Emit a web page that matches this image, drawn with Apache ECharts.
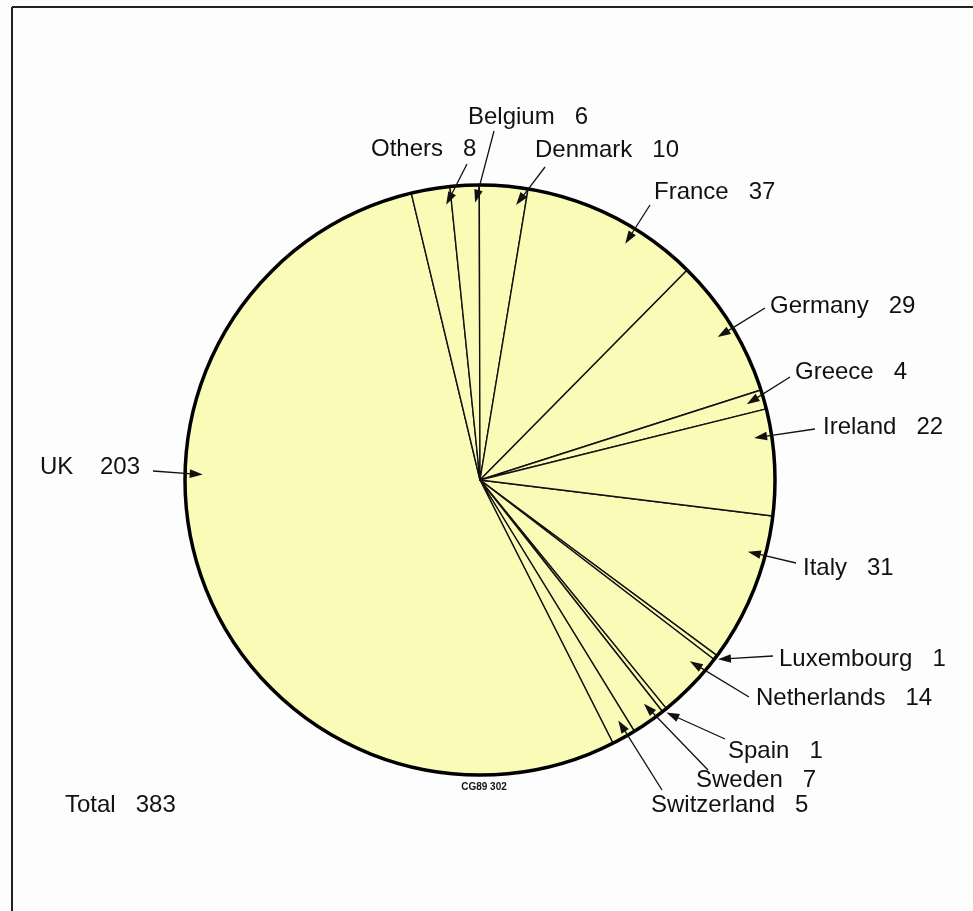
<!DOCTYPE html>
<html>
<head>
<meta charset="utf-8">
<script src="https://cdn.jsdelivr.net/npm/echarts@6/dist/echarts.min.js"></script>
<style>
html,body{margin:0;padding:0;background:#fdfdfd;}
#c{width:973px;height:911px;}
</style>
</head>
<body>
<div id="c"></div>
<script>
// ---- data ----
const categories = ['Italy','Luxembourg','Netherlands','Spain','Sweden','Switzerland','UK','Others','Belgium','Denmark','France','Germany','Greece','Ireland'];
const values = [31,1,14,1,7,5,203,8,6,10,37,29,4,22];
const totalShown = 383;
const figureCode = 'CG89 302';

// ---- layout (positions of annotations) ----
const CX = 480, CY = 480, R = 295;
const START_ANGLE = -7;
const FONT = '"Liberation Sans", Arial, Helvetica, sans-serif';
const labelAt = {
  Others:[371,149], Belgium:[468,117], Denmark:[535,150], France:[654,192],
  Germany:[770,306], Greece:[795,372], Ireland:[823,427], Italy:[803,568],
  Luxembourg:[779,659], Netherlands:[756,698], Spain:[728,751], Sweden:[696,780],
  Switzerland:[651,805], UK:[40,467]
};
const tailAt = {
  Others:[467,164], Belgium:[494,131], Denmark:[545,167], France:[650,205],
  Germany:[765,308], Greece:[790,377], Ireland:[815,429], Italy:[796,563],
  Luxembourg:[773,656], Netherlands:[749,697], Spain:[725,739], Sweden:[708,770],
  Switzerland:[662,790], UK:[153,471]
};
// where along each slice's angle the arrow points (0 = start, 1 = end), and how deep
const tipFrac = {Others:0.85, Belgium:0.85, Denmark:0.8, France:0.63, Germany:0.52,
  Ireland:0.25, Italy:0.27, Netherlands:0.25, Sweden:0.3, Switzerland:0.35, UK:0.61};
const tipDepth = {Luxembourg:1.01, Spain:1.01};
const gapSpaces = {UK:4};

const chart = echarts.init(document.getElementById('c'), null, {renderer:'canvas'});
const seriesData = categories.map((n,i)=>({name:n, value:values[i]}));

chart.setOption({
  animation:false,
  backgroundColor:'#fdfdfd',
  series:[
    {
      type:'pie',
      center:[CX,CY],
      radius:[0,R],
      startAngle:START_ANGLE,
      clockwise:true,
      avoidLabelOverlap:false,
      silent:true,
      data:seriesData,
      itemStyle:{color:'#f9fbb6', borderColor:'#111', borderWidth:1.4},
      emphasis:{disabled:true},
      label:{
        show:true, position:'outside',
        fontFamily:FONT, fontSize:24, color:'#111',
        formatter:p => p.name + ' '.repeat(gapSpaces[p.name] || 3) + p.value
      },
      labelLine:{show:false},
      labelLayout:function(params){
        const n = categories[params.dataIndex];
        const pos = labelAt[n];
        return {x:pos[0], y:pos[1], align:'left', verticalAlign:'middle'};
      }
    },
    {
      type:'pie',
      center:[CX,CY],
      radius:[0,R],
      silent:true,
      z:5,
      data:[{value:1, name:'rim'}],
      itemStyle:{color:'rgba(0,0,0,0)', borderColor:'#000', borderWidth:3.5},
      label:{show:false}, labelLine:{show:false},
      emphasis:{disabled:true}
    }
  ]
});

// ---- arrows from labels to slices, using the library's slice layout ----
function sliceLayouts(){
  try{
    const d = chart.getModel().getSeriesByIndex(0).getData();
    return categories.map((n,i)=>d.getItemLayout(i));
  }catch(e){
    const sum = values.reduce((a,b)=>a+b,0);
    let a = -START_ANGLE*Math.PI/180;
    return values.map(v=>{const s=a; a+=v/sum*2*Math.PI; return {cx:CX,cy:CY,r:R,startAngle:s,endAngle:a};});
  }
}
const lays = sliceLayouts();
const graphics = [];
categories.forEach((n,i)=>{
  const L = lays[i];
  const f = (tipFrac[n] != null) ? tipFrac[n] : 0.5;
  const ang = L.startAngle + (L.endAngle - L.startAngle)*f;
  const k = tipDepth[n] || 0.94;
  const tip = [L.cx + k*L.r*Math.cos(ang), L.cy + k*L.r*Math.sin(ang)];
  const tail = tailAt[n];
  const dx = tip[0]-tail[0], dy = tip[1]-tail[1];
  const len = Math.sqrt(dx*dx+dy*dy);
  const ux = dx/len, uy = dy/len;
  const hl = 13, hw = 4.3;
  const base = [tip[0]-ux*hl, tip[1]-uy*hl];
  graphics.push({
    type:'line', silent:true, z:10,
    shape:{x1:tail[0], y1:tail[1], x2:base[0]+ux*2, y2:base[1]+uy*2},
    style:{stroke:'#111', lineWidth:1.3}
  });
  graphics.push({
    type:'polygon', silent:true, z:10,
    shape:{points:[tip,[base[0]-uy*hw, base[1]+ux*hw],[base[0]+uy*hw, base[1]-ux*hw]]},
    style:{fill:'#111'}
  });
});
// frame
graphics.push({type:'line', silent:true, shape:{x1:12,y1:7,x2:973,y2:7}, style:{stroke:'#222', lineWidth:2}});
graphics.push({type:'line', silent:true, shape:{x1:12,y1:7,x2:12,y2:911}, style:{stroke:'#222', lineWidth:2}});
// total & code
graphics.push({type:'text', silent:true, x:65, y:805,
  style:{text:'Total   ' + totalShown, font:'24px ' + FONT, fill:'#111', verticalAlign:'middle', align:'left'}});
graphics.push({type:'text', silent:true, x:484, y:787,
  style:{text:figureCode, font:'bold 10px ' + FONT, fill:'#111', verticalAlign:'middle', align:'center'}});

chart.setOption({graphic:graphics});
</script>
</body>
</html>
